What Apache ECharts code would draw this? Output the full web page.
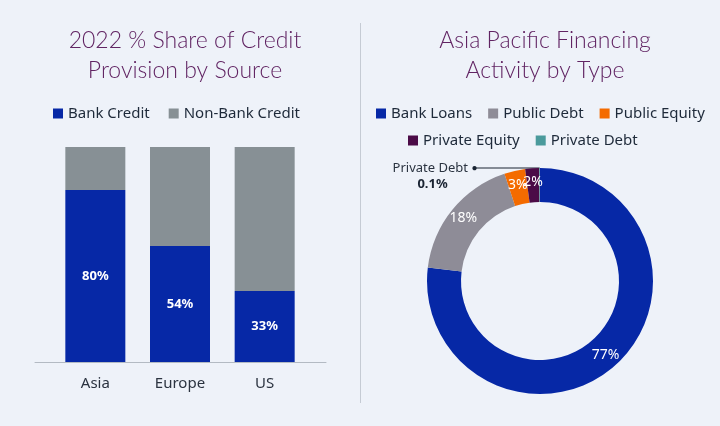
<!DOCTYPE html>
<html>
<head>
<meta charset="utf-8">
<script src="https://cdn.jsdelivr.net/npm/echarts@6/dist/echarts.min.js"></script>
<style>
html, body { margin: 0; padding: 0; background: #eef2f9; }
#main { width: 720px; height: 426px; }
</style>
</head>
<body>
<div id="main"></div>
<script>
var BG_COLOR = "#eef2f9";
var TITLE_COLOR = "#612463";
var TEXT_COLOR = "#1e2a3a";
var FONT = "Noto Sans";

// left chart: credit share by region
var barCategories = ["Asia", "Europe", "US"];
var bankCredit = [80, 54, 33];
var nonBankCredit = [20, 46, 67];

// right chart: financing activity by type
var pieNames = ["Bank Loans", "Public Debt", "Public Equity", "Private Equity", "Private Debt"];
var pieValues = [77, 18, 3, 2, 0.1];
var pieColors = ["#0628a6", "#8e8c97", "#f46b00", "#4b0b47", "#4a9a9c"];

var chart = echarts.init(document.getElementById("main"));

var pieData = pieNames.map(function(name, i) {
	var item = { name: name, value: pieValues[i], itemStyle: { color: pieColors[i] } };
	if (name === "Private Debt") {
		item.label = {
			position: "outside",
			distanceToLabelLine: -2,
			padding: [16, 0, 0, 0],
			formatter: function(p) {
				return "{n|" + p.name + "} {dot|\u25CF}\n{v|" + p.value + "%}";
			},
			rich: {
				n: { fontFamily: FONT, fontSize: 13, color: "#2a3340", lineHeight: 16 },
				dot: { fontSize: 10, color: "#1a2433", lineHeight: 16 },
				v: { fontFamily: FONT, fontSize: 13, fontWeight: "bold", color: "#1a2433", lineHeight: 16, padding: [0, 30, 0, 0] }
			}
		};
		item.labelLine = {
			show: true,
			length: 0,
			length2: 64,
			lineStyle: { color: "#1a2433", width: 1 }
		};
	}
	return item;
});

var legendBase = {
	icon: "rect",
	itemWidth: 10,
	itemHeight: 10,
	padding: 0,
	textStyle: { fontFamily: FONT, fontSize: 15, color: TEXT_COLOR }
};

var option = {
	backgroundColor: BG_COLOR,
	animation: false,
	textStyle: { fontFamily: FONT },
	title: [
		{
			text: "2022 % Share of Credit\nProvision by Source",
			left: 180,
			top: 21,
			textAlign: "center",
			textStyle: { fontFamily: "Lato", fontWeight: 300, fontSize: 23, lineHeight: 30, color: TITLE_COLOR }
		},
		{
			text: "Asia Pacific Financing\nActivity by Type",
			left: 540,
			top: 21,
			textAlign: "center",
			textStyle: { fontFamily: "Lato", fontWeight: 300, fontSize: 23, lineHeight: 30, color: TITLE_COLOR }
		}
	],
	legend: [
		echarts.util.merge({ data: ["Bank Credit", "Non-Bank Credit"], left: 53, top: 106, itemGap: 19 }, legendBase),
		echarts.util.merge({ data: pieNames.slice(0, 3), left: 376, top: 106, itemGap: 16 }, legendBase),
		echarts.util.merge({ data: pieNames.slice(3), left: 408, top: 133, itemGap: 16 }, legendBase)
	],
	grid: [
		{ left: 53, width: 254, top: 147, bottom: 64 },
		// wider grid only to draw the base line
		{ left: 35, right: 394, top: 147, bottom: 64 }
	],
	xAxis: [
		{
			type: "category",
			gridIndex: 0,
			data: barCategories,
			axisLine: { show: false },
			axisTick: { show: false },
			axisLabel: { fontFamily: FONT, fontSize: 15, color: "#2b3340", margin: 14 }
		},
		{
			type: "value",
			gridIndex: 1,
			min: 0,
			max: 1,
			axisLine: { show: true, lineStyle: { color: "#b3bac3", width: 1 } },
			axisTick: { show: false },
			axisLabel: { show: false },
			splitLine: { show: false }
		}
	],
	yAxis: [
		{ type: "value", gridIndex: 0, min: 0, max: 100, show: false },
		{ type: "value", gridIndex: 1, show: false }
	],
	series: [
		{
			name: "Bank Credit",
			type: "bar",
			stack: "credit",
			barWidth: 60,
			data: bankCredit,
			itemStyle: { color: "#0628a6" },
			label: {
				show: true,
				position: "inside",
				formatter: "{c}%",
				fontFamily: FONT,
				fontSize: 13,
				fontWeight: "bold",
				color: "#ffffff"
			}
		},
		{
			name: "Non-Bank Credit",
			type: "bar",
			stack: "credit",
			barWidth: 60,
			data: nonBankCredit,
			itemStyle: { color: "#879095" }
		},
		{
			name: "Financing",
			type: "pie",
			center: [540, 281],
			radius: [79, 113],
			startAngle: 90,
			clockwise: true,
			avoidLabelOverlap: false,
			minShowLabelAngle: 0,
			data: pieData,
			label: {
				show: true,
				position: "inside",
				formatter: "{c}%",
				fontFamily: FONT,
				fontSize: 14,
				color: "#ffffff",
				overflow: "none"
			},
			labelLayout: { hideOverlap: false },
			labelLine: { show: false },
			emphasis: { disabled: true }
		}
	],
	graphic: [
		{
			type: "line",
			shape: { x1: 360.5, y1: 23, x2: 360.5, y2: 403 },
			style: { stroke: "#c5cbd4", lineWidth: 1 }
		}
	]
};

chart.setOption(option);
</script>
</body>
</html>
